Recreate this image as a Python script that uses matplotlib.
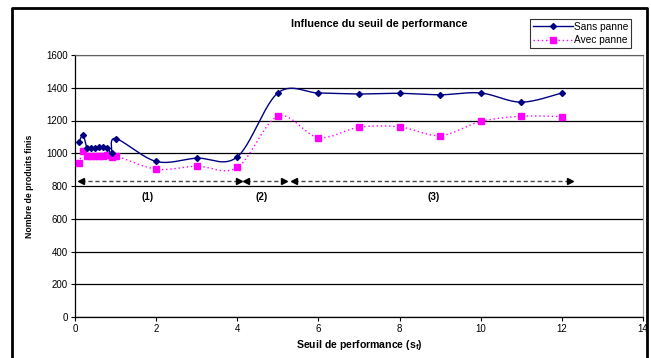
import numpy as np
import matplotlib
matplotlib.use("Agg")
import matplotlib.pyplot as plt
from matplotlib.lines import Line2D

plt.rcParams['font.family'] = ['Liberation Sans', 'DejaVu Sans']

# ---- data ----
x_vals = [0.1, 0.2, 0.3, 0.4, 0.5, 0.6, 0.7, 0.8, 0.9, 1.0, 2, 3, 4, 5, 6, 7, 8, 9, 10, 11, 12]
sans_panne = [1070, 1110, 1030, 1030, 1035, 1040, 1040, 1035, 1000, 1090,
              950, 970, 978, 1368, 1368, 1362, 1366, 1357, 1368, 1312, 1368]
avec_panne = [940, 1015, 985, 985, 985, 985, 985, 988, 975, 985,
              903, 921, 913, 1226, 1096, 1159, 1161, 1108, 1194, 1226, 1224]
arrow_starts = [0.15, 4.22, 5.4]
arrow_ends = [4.05, 5.15, 12.2]
arrow_level = 830
zone_labels = ['(1)', '(2)', '(3)']
zone_label_x = [1.8, 4.6, 8.85]
zone_label_y = 735

W, H = 651, 358
fig = plt.figure(figsize=(W / 100, H / 100), dpi=100)
ax = fig.add_axes([75 / W, 1 - 317 / H, (643 - 75) / W, (317 - 55) / H])

XMAX, YMAX = 14, 1600
sx = (643 - 75) / XMAX
sy = (317 - 55) / YMAX


def smooth(xs, ys, n=30):
    px = np.array(xs, float) * sx
    py = np.array(ys, float) * sy
    P = np.column_stack([px, py])
    out = []
    for i in range(len(P) - 1):
        p0 = P[i - 1] if i > 0 else P[i]
        p1 = P[i]
        p2 = P[i + 1]
        p3 = P[i + 2] if i + 2 < len(P) else P[i + 1]
        b1 = p1 + (p2 - p0) / 6
        b2 = p2 - (p3 - p1) / 6
        t = np.linspace(0, 1, n)[:, None]
        seg = ((1 - t) ** 3) * p1 + 3 * ((1 - t) ** 2) * t * b1 + 3 * (1 - t) * t ** 2 * b2 + t ** 3 * p2
        out.append(seg if i == 0 else seg[1:])
    out = np.vstack(out)
    return out[:, 0] / sx, out[:, 1] / sy


bx, by = smooth(x_vals, sans_panne)
ax.plot(bx, by, color='#000080', lw=1.0, zorder=4)
ax.plot(x_vals, sans_panne, ls='none', marker='D', ms=3, color='#000080', zorder=5)

px_, py_ = smooth(x_vals, avec_panne)
ax.plot(px_, py_, color='#FF00FF', lw=1.0, ls=(0, (1, 2)), zorder=3)
ax.plot(x_vals, avec_panne, ls='none', marker='s', ms=4.5, color='#FF00FF', zorder=3.5)

for a, b in zip(arrow_starts, arrow_ends):
    ax.plot([a, b], [arrow_level, arrow_level], color='#444444', lw=1.0, ls=(0, (3, 2)), zorder=3)
    ax.plot([a], [arrow_level], marker='<', ms=4, color='black', zorder=3)
    ax.plot([b], [arrow_level], marker='>', ms=4, color='black', zorder=3)
for lab, lx in zip(zone_labels, zone_label_x):
    ax.text(lx, zone_label_y, lab, ha='center', va='center', fontsize=7, fontweight='bold')

ax.set_xlim(0, XMAX)
ax.set_ylim(0, YMAX)
ax.set_xticks(np.arange(0, 15, 2))
ax.set_yticks(np.arange(0, 1601, 200))
ax.yaxis.grid(True, color='black', lw=0.9)
ax.set_axisbelow(True)
ax.tick_params(labelsize=7, length=3, width=0.8, pad=2)
for s in ['left', 'bottom']:
    ax.spines[s].set_color('black')
    ax.spines[s].set_linewidth(0.9)
ax.spines['right'].set_color('#a0a0a0')
ax.spines['top'].set_color('#606060')
ax.set_xlabel('Seuil de performance (s$_{\\mathregular{f}}$)', fontsize=7.6, fontweight='bold', labelpad=3)
ax.set_ylabel('Nombre de produits finis', fontsize=6.2, fontweight='bold', labelpad=9)

fig.text(379 / W, 1 - 24 / H, 'Influence du seuil de performance', ha='center', va='center',
         fontsize=7.8, fontweight='bold')

handles = [Line2D([], [], color='#000080', lw=1.0, marker='D', ms=3),
           Line2D([], [], color='#FF00FF', lw=1.0, ls=(0, (1, 2)), marker='s', ms=4.5)]
leg = fig.legend(handles, ['Sans panne', 'Avec panne'], loc='upper left',
                 bbox_to_anchor=(530 / W, 1 - 19 / H), fontsize=7.3, frameon=True,
                 fancybox=False, edgecolor='black', borderpad=0.3, labelspacing=0.3,
                 handlelength=3.9, handletextpad=0.1, borderaxespad=0)
leg.get_frame().set_linewidth(0.8)

# outer chart frame
fig.add_artist(Line2D([12 / W, 12 / W, 647 / W, 647 / W], [0, 1 - 8 / H, 1 - 8 / H, 0],
                      color='black', lw=2.0, transform=fig.transFigure))

fig.savefig('out.png', dpi=100)
